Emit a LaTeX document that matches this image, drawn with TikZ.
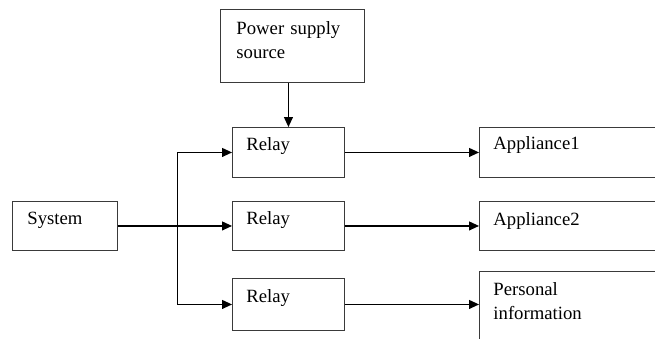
\documentclass[tikz,border=0pt]{standalone}
\usepackage{fontspec}
\setmainfont{Liberation Serif}
\usetikzlibrary{arrows.meta,positioning}
\definecolor{blkInk}{HTML}{3A3A3A}
\definecolor{blkLine}{HTML}{000000}
\tikzset{
  blk/base/.style={draw=blkInk, line width=0.9pt, anchor=north west,
    align=left, font=\fontsize{18.7}{24}\selectfont, inner ysep=0pt,
    text height=23pt},
  blk/relay/.style={blk/base, inner xsep=14pt, text width=84pt},
  blk/source/.style={blk/base, inner xsep=16pt, text width=112pt},
  blk/system/.style={blk/base, inner xsep=15pt, text width=75pt},
  blk/load/.style={blk/base, inner xsep=14pt, text width=220pt},
  blk/arrow/.style={-{Triangle[length=10pt,width=9pt]}, draw=blkLine,
    line width=1.1pt},
}

\begin{document}
\begin{tikzpicture}[x=1pt, y=-1pt]
\useasboundingbox (0,0) rectangle (655,338);
\clip (0,0) rectangle (655,338);

\node[blk/source, text height=25pt, text depth=48pt] (power) at (220,9)
  {Power supply\\source};
\node[blk/system, text depth=26pt] (system) at (12,201) {System};

\node[blk/relay, text depth=27pt] (relay1) at (232,127) {Relay};
\node[blk/relay, text depth=26pt] (relay2) at (232,201) {Relay};
\node[blk/relay, text height=24pt, text depth=28pt] (relay3) at (232,278) {Relay};

\node[blk/load, text height=22pt, text depth=28pt] (appl1) at (479,127) {Appliance1};
\node[blk/load, text height=24pt, text depth=25pt] (appl2) at (479,201) {Appliance2};
\node[blk/load, text height=24pt, text depth=60pt] (personal) at (479,271)
  {Personal\\information};

\coordinate[right=60pt of system.east] (split);

\draw[blk/arrow] (power.south -| relay1.north) -- (relay1.north);
\draw[blk/arrow] (system) -- (relay2);
\draw[blk/arrow] (split) |- (relay1.west);
\draw[blk/arrow] (split) |- (relay3.west);

\draw[blk/arrow] (relay1.east) -- (relay1.east -| appl1.west);
\draw[blk/arrow] (relay2.east) -- (relay2.east -| appl2.west);
\draw[blk/arrow] (relay3.east) -- (relay3.east -| personal.west);
\end{tikzpicture}
\end{document}
